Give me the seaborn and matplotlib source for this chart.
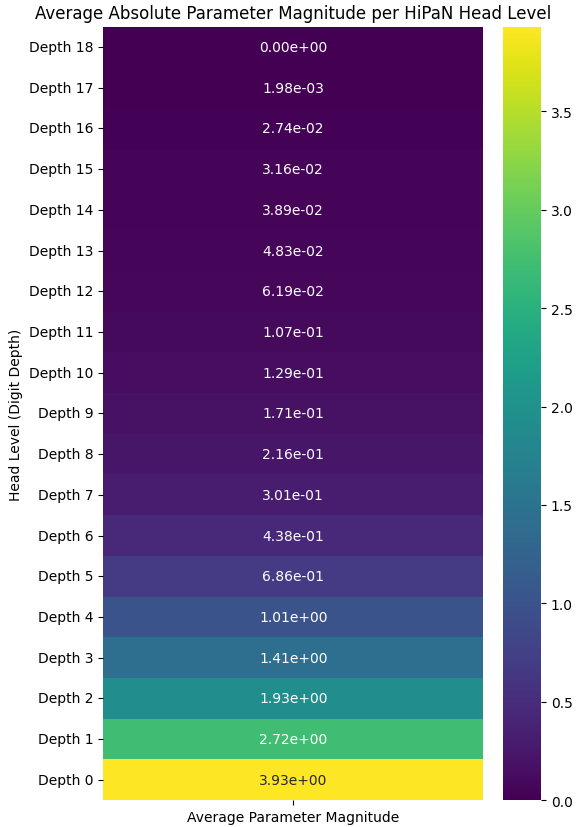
import matplotlib
matplotlib.use("Agg")
import matplotlib.pyplot as plt
import seaborn as sns
import pandas as pd
import numpy as np

depths = [f"Depth {i}" for i in range(18, -1, -1)]
values = [0.0, 1.98e-03, 2.74e-02, 3.16e-02, 3.89e-02, 4.83e-02, 6.19e-02,
          1.07e-01, 1.29e-01, 1.71e-01, 2.16e-01, 3.01e-01, 4.38e-01,
          6.86e-01, 1.01, 1.41, 1.93, 2.72, 3.93]
col_label = "Average Parameter Magnitude"

df = pd.DataFrame({col_label: values}, index=depths)

fig = plt.figure(figsize=(5.8, 8.28), dpi=100)
ax = fig.add_axes([0.178, 0.0325, 0.655, 0.934])
cax = fig.add_axes([0.867, 0.0325, 0.066, 0.934])
sns.heatmap(df, annot=True, fmt=".2e", cmap="viridis", ax=ax, cbar_ax=cax)
ax.set_title("Average Absolute Parameter Magnitude per HiPaN Head Level", fontsize=12)
ax.set_ylabel("Head Level (Digit Depth)")
ax.set_yticklabels(ax.get_yticklabels(), rotation=0)
fig.savefig("out.png", dpi=100)
